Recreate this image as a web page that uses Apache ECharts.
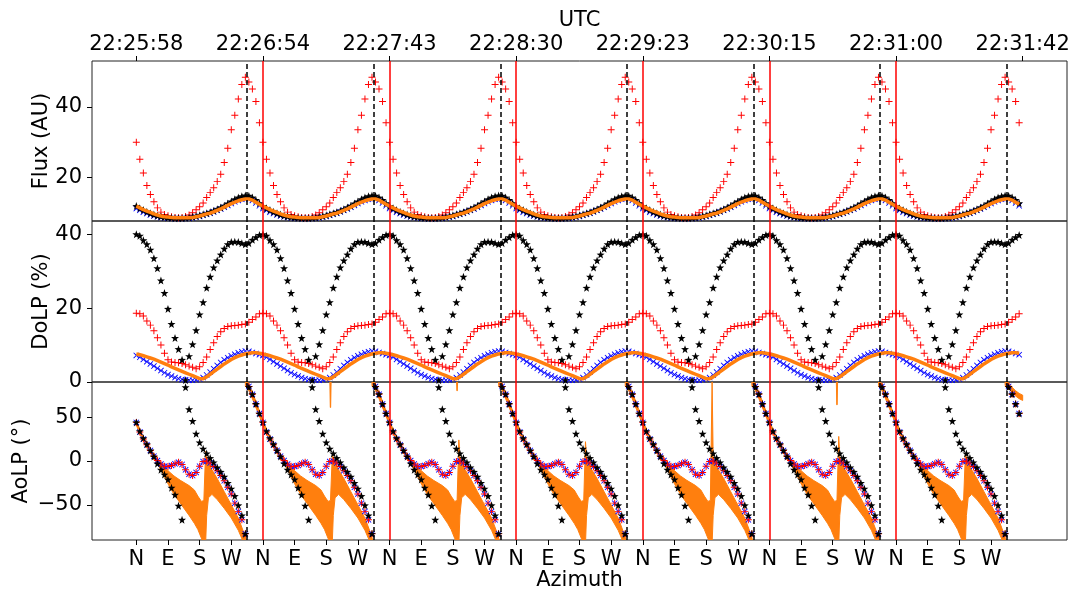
<!DOCTYPE html>
<html><head><meta charset="utf-8">
<script src="https://cdn.jsdelivr.net/npm/echarts@6/dist/echarts.min.js"></script>
<style>html,body{margin:0;padding:0;background:#fff}#c{width:1074px;height:592px}</style>
</head><body><div id="c"></div>
<script>
// ---------- labels ----------
const AZ_LABELS = ['N', 'E', 'S', 'W'];
const UTC_LABELS = ['22:25:58', '22:26:54', '22:27:43', '22:28:30', '22:29:23', '22:30:15', '22:31:00', '22:31:42'];
const N_ROT = 7;                       // number of full rotations in the record
const RED_LINES = [360, 720, 1080, 1440, 1800, 2160];          // cumulative azimuth (deg)
const DASH_LINES = [315, 675, 1035, 1395, 1755, 2115, 2475];

// ---------- per-rotation profiles (azimuth in deg within one rotation) ----------
const SAMPLE_AZ = [0, 10, 20, 30, 40, 50, 60, 70, 80, 90, 100, 110, 120, 130, 140, 150, 160, 170,
  180, 190, 200, 210, 220, 230, 240, 250, 260, 270, 280, 290, 300, 310, 320, 330, 340, 350];

// Flux (AU)
const FLUX_RED = [30, 25.2, 21.3, 17.8, 15.3, 13.2, 11.5, 10.3, 9.6, 9.3, 9.0, 8.8, 8.7, 8.8, 9.1, 9.5, 10.1, 11.0,
  11.8, 12.9, 14.4, 15.8, 17.2, 18.9, 21.0, 24.3, 28.3, 33.5, 37.6, 42.2, 46.3, 48.3, 47.0, 45.0, 41.5, 35.5];
const FLUX_BLACK = [12.0, 11.4, 10.9, 10.4, 10.0, 9.6, 9.3, 9.1, 8.9, 8.8, 8.7, 8.6, 8.6, 8.6, 8.7, 8.8, 9.0, 9.2,
  9.4, 9.7, 10.0, 10.3, 10.7, 11.1, 11.6, 12.1, 12.7, 13.3, 13.9, 14.4, 14.8, 15.0, 14.9, 14.4, 13.7, 12.8];
const FLUX_BLUE = [11.3, 10.8, 10.3, 9.9, 9.5, 9.2, 9.0, 8.8, 8.7, 8.6, 8.5, 8.5, 8.5, 8.5, 8.5, 8.6, 8.7, 8.9,
  9.1, 9.4, 9.7, 10.0, 10.4, 10.8, 11.2, 11.7, 12.2, 12.7, 13.2, 13.6, 13.9, 14.1, 14.0, 13.6, 12.9, 12.1];
const FLUX_ORANGE = [12.0, 11.5, 11.0, 10.6, 10.2, 9.8, 9.5, 9.2, 9.0, 8.9, 8.8, 8.7, 8.7, 8.7, 8.7, 8.7, 8.8, 9.0,
  9.2, 9.5, 9.8, 10.0, 10.4, 10.8, 11.2, 11.7, 12.2, 12.7, 13.1, 13.5, 13.8, 14.0, 14.0, 13.7, 13.1, 12.5];

// DoLP (%)
const DOLP_RED = [18.6, 18.5, 17.9, 16.5, 15.4, 13.9, 12.0, 10.0, 7.8, 6.0, 5.4, 5.3, 5.2, 5.0, 4.7, 4.3, 4.0, 3.6,
  4.1, 5.3, 6.8, 8.8, 10.6, 12.3, 13.6, 14.5, 15.0, 15.2, 15.3, 15.4, 15.6, 15.7, 16.2, 16.9, 17.6, 18.5];
const DOLP_BLACK = [40, 39.6, 38.4, 37.3, 35.8, 33.5, 30.8, 27.5, 24.1, 19.8, 15.7, 11.9, 8.9, 6.0, 0.5, 7.0, 10.2, 14.0,
  18.3, 21.6, 25.5, 28.5, 31.0, 32.9, 34.5, 36.1, 37.3, 37.9, 38.0, 37.9, 37.6, 37.3, 37.6, 38.5, 39.2, 39.8];
const DOLP_BLUE = [7.2, 6.7, 6.1, 5.5, 4.9, 4.3, 3.7, 3.1, 2.5, 2.0, 1.6, 1.2, 0.9, 0.7, 0.6, 0.5, 0.5, 0.6,
  0.8, 1.2, 1.9, 2.7, 3.6, 4.5, 5.3, 6.0, 6.6, 7.1, 7.5, 7.9, 8.2, 8.4, 8.3, 8.0, 7.7, 7.4];
const DOLP_ORANGE = [7.6, 7.4, 7.1, 6.8, 6.5, 6.2, 5.8, 5.4, 5.0, 4.6, 4.1, 3.7, 3.3, 2.9, 2.5, 2.1, 1.7, 1.3,
  0.9, 0.9, 1.4, 2.1, 2.8, 3.5, 4.2, 4.9, 5.5, 6.1, 6.6, 7.0, 7.3, 7.6, 7.8, 7.9, 7.9, 7.8];

// AoLP (deg)  (red and blue coincide)
const AOLP_BLUE = [44, 33, 25, 18.5, 12, 5.5, 0.5, -3.5, -6, -6.2, -5, -3.2, -1.3, -4, -10, -15, -16.5, -13,
  -6, -0.6, 0, -2.3, -6.3, -11, -16.5, -22.5, -30, -37.5, -48, -57.4, -67, -83, 85, 76, 65, 54];
const AOLP_RED = [44, 33, 25, 18.5, 12, 5.5, 0.5, -3.5, -6, -6.2, -5, -3.2, -1.3, -4, -10, -15, -16.5, -13,
  -6, -0.6, 0, -2.3, -6.3, -11, -16.5, -22.5, -30, -37.5, -48, -57.4, -67, -83, 85, 76, 65, 54];
const AOLP_BLACK = [44, 34, 26, 19, 12, 5, -3, -10, -15.5, -21, -30.5, -38.5, -51, -67, 84, 59, 45.5, 31,
  21, 14, 8.5, 3.3, -1.6, -7.3, -12.4, -18, -25, -31.5, -40, -50.5, -62, -83, 84, 76, 65, 54];

// AoLP orange band envelope: segment from N down to the -90 wrap, and segment from the +90 wrap back to N
const ORANGE_AOLP_AZ1 = [0, 10, 20, 30, 40, 50, 60, 75, 90, 107, 125, 150, 165, 175, 185, 192, 197, 200, 205, 215, 230, 250, 270, 290, 305, 312];
const ORANGE_AOLP_HI1 = [46, 36, 28, 21, 14, 8, 3, -4, -11, -17, -22, -28, -33, -40, -46, -45, null, 5, 0, -10, -20, -35, -50, -65, -81, -90];
const ORANGE_AOLP_LO1 = [41, 31, 23, 16, 9, 2, -3, -14, -26, -38, -48, -62, -71, -78, -88, -95, -95, -62, -42, -38, -44, -54, -65, -79, -93, -95];
const ORANGE_AOLP_AZ2 = [310, 320, 330, 340, 350, 360];
const ORANGE_AOLP_HI2 = [93, 88, 78, 68, 57, 46];
const ORANGE_AOLP_LO2 = [86, 80, 71, 61, 51, 41];
const ORANGE_AOLP_HI2_END = [93, 89, 84, 80, 77, 75];  // last rotation tail flattens
const ORANGE_AOLP_LO2_END = [86, 83, 78, 74, 71, 69];
const ORANGE_SPIKE_TOP = [11, 5, 24, 22, 90, 28, 7];          // per rotation
const ORANGE_WRAP_DEPTH = [null, 61, 80, null, null, 64, null]; // wrapped part of downward spike

// ---------- colours ----------
const RED = '#ff0000', BLUE = '#0000ff', BLACK = '#000000', ORANGE = '#ff7f0e';
const FONT = 'DejaVu Sans';

// ---------- build data ----------
function build(profile) {
  const out = [];
  for (let r = 0; r < N_ROT; r++)
    for (let i = 0; i < SAMPLE_AZ.length; i++) out.push([r * 360 + SAMPLE_AZ[i], profile[i]]);
  return out;
}
const orangePolys = [];
for (let r = 0; r < N_ROT; r++) {
  const off = r * 360;
  const hi = ORANGE_AOLP_HI1.map(v => v === null ? ORANGE_SPIKE_TOP[r] : v);
  const p1 = [];
  for (let i = 0; i < ORANGE_AOLP_AZ1.length; i++) p1.push([off + ORANGE_AOLP_AZ1[i], hi[i]]);
  for (let i = ORANGE_AOLP_AZ1.length - 1; i >= 0; i--) p1.push([off + ORANGE_AOLP_AZ1[i], ORANGE_AOLP_LO1[i]]);
  orangePolys.push(p1);
  const last = r === N_ROT - 1;
  const hi2 = last ? ORANGE_AOLP_HI2_END : ORANGE_AOLP_HI2;
  const lo2 = last ? ORANGE_AOLP_LO2_END : ORANGE_AOLP_LO2;
  const p2 = [];
  for (let i = 0; i < ORANGE_AOLP_AZ2.length; i++) p2.push([off + ORANGE_AOLP_AZ2[i], hi2[i]]);
  for (let i = ORANGE_AOLP_AZ2.length - 1; i >= 0; i--) p2.push([off + ORANGE_AOLP_AZ2[i], lo2[i]]);
  orangePolys.push(p2);
  if (ORANGE_WRAP_DEPTH[r] !== null) {
    orangePolys.push([[off + 190, 95], [off + 194, 95], [off + 192.5, ORANGE_WRAP_DEPTH[r]], [off + 191.5, ORANGE_WRAP_DEPTH[r]]]);
  }
}

// ---------- symbols ----------
const PLUS = 'path://M4.3,0H5.7V4.3H10V5.7H5.7V10H4.3V5.7H0V4.3H4.3Z';
const XMARK = 'path://M0,1L1,0L5,4L9,0L10,1L6,5L10,9L9,10L5,6L1,10L0,9L4,5Z';
const STAR = 'path://M5,0L6.18,3.38L9.76,3.45L6.9,5.62L7.94,9.05L5,7L2.06,9.05L3.1,5.62L0.24,3.45L3.82,3.38Z';

// ---------- axes ----------
const XMIN = -126, XMAX = 2646;
const utcTicks = UTC_LABELS.map((_, i) => i * 360);
const azTicks = [];
for (let r = 0; r < N_ROT; r++) for (let k = 0; k < AZ_LABELS.length; k++) azTicks.push(r * 360 + k * 90);

const tickStyle = { show: true, inside: false, length: 5, lineStyle: { color: '#000', width: 1 } };
const labelStyle = { color: '#000', fontFamily: FONT, fontSize: 21 };
const noLine = { show: false, onZero: false };

const grids = [
  { left: 92, right: 7, top: 61, height: 160 },
  { left: 92, right: 7, top: 221, height: 161 },
  { left: 92, right: 7, top: 382, height: 160 }
].map(g => Object.assign(g, { show: true, borderColor: '#222', borderWidth: 1, backgroundColor: 'transparent' }));

const xAxes = [
  {
    gridIndex: 0, type: 'value', min: XMIN, max: XMAX, position: 'top',
    axisLine: noLine, splitLine: { show: false },
    axisTick: Object.assign({ customValues: utcTicks }, tickStyle),
    axisLabel: Object.assign({ customValues: utcTicks, margin: 6, formatter: v => UTC_LABELS[Math.round(v / 360)] }, labelStyle),
    name: 'UTC', nameLocation: 'middle', nameGap: 30, nameMoveOverlap: false, nameTextStyle: labelStyle
  },
  { gridIndex: 1, type: 'value', min: XMIN, max: XMAX, show: false, axisLine: noLine, splitLine: { show: false } },
  {
    gridIndex: 2, type: 'value', min: XMIN, max: XMAX, position: 'bottom',
    axisLine: noLine, splitLine: { show: false },
    axisTick: Object.assign({ customValues: azTicks }, tickStyle),
    axisLabel: Object.assign({ customValues: azTicks, margin: 9, formatter: v => AZ_LABELS[Math.round(v / 90) % 4] }, labelStyle),
    name: 'Azimuth', nameLocation: 'middle', nameGap: 30, nameMoveOverlap: false, nameTextStyle: labelStyle
  }
];
const minus = v => (v < 0 ? '\u2212' + Math.abs(v) : String(v));
const yAxes = [
  { gridIndex: 0, min: 7.8, max: 52.9, ticks: [20, 40], name: 'Flux (AU)', gap: 40 },
  { gridIndex: 1, min: 0, max: 43.6, ticks: [0, 20, 40], name: 'DoLP (%)', gap: 40 },
  { gridIndex: 2, min: -90, max: 90, ticks: [-50, 0, 50], name: 'AoLP (°)', gap: 60 }
].map(a => ({
  gridIndex: a.gridIndex, type: 'value', min: a.min, max: a.max,
  axisLine: noLine, splitLine: { show: false },
  axisTick: Object.assign({ customValues: a.ticks }, tickStyle),
  axisLabel: Object.assign({ customValues: a.ticks, margin: 10, formatter: minus }, labelStyle),
  name: a.name, nameLocation: 'middle', nameGap: a.gap, nameMoveOverlap: false, nameTextStyle: labelStyle
}));

// ---------- series ----------
const markLines = {
  silent: true, symbol: ['none', 'none'], label: { show: false }, animation: false,
  data: RED_LINES.map(v => ({ xAxis: v, lineStyle: { color: RED, width: 1.5, type: 'solid' } }))
    .concat(DASH_LINES.map(v => ({ xAxis: v, lineStyle: { color: BLACK, width: 1.5, type: [5, 3] } })))
};
function scatter(gi, data, symbol, size, color, withLines) {
  const s = {
    type: 'scatter', xAxisIndex: gi, yAxisIndex: gi, data, symbol, symbolSize: size,
    itemStyle: { color, opacity: 1 }, silent: true, animation: false, clip: true
  };
  if (withLines) s.markLine = markLines;
  return s;
}
function orangeLine(gi, data) {
  return {
    type: 'line', xAxisIndex: gi, yAxisIndex: gi, data, showSymbol: false, symbol: 'none',
    lineStyle: { color: ORANGE, width: 3.5 }, silent: true, animation: false, clip: true
  };
}

const series = [
  orangeLine(0, build(FLUX_ORANGE)),
  scatter(0, build(FLUX_BLUE), XMARK, 6, BLUE),
  scatter(0, build(FLUX_RED), PLUS, 7, RED),
  scatter(0, build(FLUX_BLACK), STAR, 8, BLACK, true),

  orangeLine(1, build(DOLP_ORANGE)),
  scatter(1, build(DOLP_BLUE), XMARK, 6, BLUE),
  scatter(1, build(DOLP_RED), PLUS, 7, RED),
  scatter(1, build(DOLP_BLACK), STAR, 8, BLACK, true),

  {
    type: 'custom', xAxisIndex: 2, yAxisIndex: 2, clip: true, silent: true, animation: false,
    data: orangePolys.map((_, i) => [i, 0]),
    renderItem: (params, api) => {
      const poly = orangePolys[api.value(0)];
      return { type: 'polygon', shape: { points: poly.map(p => api.coord(p)) }, style: { fill: ORANGE, stroke: ORANGE, lineWidth: 1 } };
    }
  },
  scatter(2, build(AOLP_BLUE), XMARK, 6, BLUE),
  scatter(2, build(AOLP_RED), PLUS, 7, RED),
  scatter(2, build(AOLP_BLACK), STAR, 8, BLACK, true)
];

const chart = echarts.init(document.getElementById('c'), null, { renderer: 'canvas' });
chart.setOption({
  animation: false,
  backgroundColor: '#ffffff',
  grid: grids, xAxis: xAxes, yAxis: yAxes, series
});
</script></body></html>
